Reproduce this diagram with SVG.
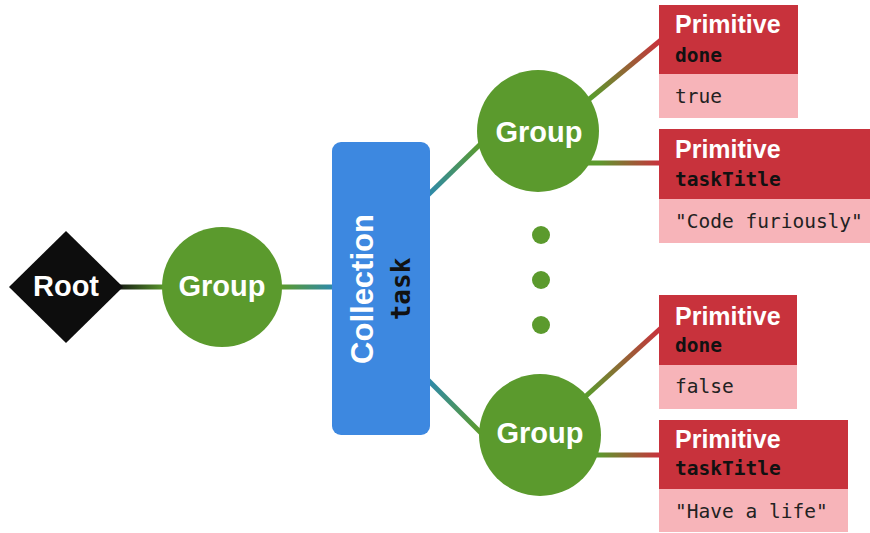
<svg xmlns="http://www.w3.org/2000/svg" width="870" height="533" viewBox="0 0 870 533">
<defs>
<linearGradient id="gRoot" gradientUnits="userSpaceOnUse" x1="115" y1="0" x2="165" y2="0"><stop offset="0" stop-color="#111"/><stop offset="1" stop-color="#5b9a2d"/></linearGradient>
<linearGradient id="gCol" gradientUnits="userSpaceOnUse" x1="282" y1="0" x2="332" y2="0"><stop offset="0" stop-color="#5b9a2d"/><stop offset="1" stop-color="#2f8aa8"/></linearGradient>
<linearGradient id="gT" gradientUnits="userSpaceOnUse" x1="430" y1="193" x2="480" y2="145"><stop offset="0" stop-color="#2f8aa8"/><stop offset="1" stop-color="#5b9a2d"/></linearGradient>
<linearGradient id="gB" gradientUnits="userSpaceOnUse" x1="430" y1="382" x2="480" y2="430"><stop offset="0" stop-color="#2f8aa8"/><stop offset="1" stop-color="#5b9a2d"/></linearGradient>
<linearGradient id="gP1" gradientUnits="userSpaceOnUse" x1="592" y1="97" x2="659" y2="42"><stop offset="0" stop-color="#5b9a2d"/><stop offset="1" stop-color="#c8323c"/></linearGradient>
<linearGradient id="gP2" gradientUnits="userSpaceOnUse" x1="598" y1="0" x2="659" y2="0"><stop offset="0" stop-color="#5b9a2d"/><stop offset="1" stop-color="#c8323c"/></linearGradient>
<linearGradient id="gP3" gradientUnits="userSpaceOnUse" x1="587" y1="395" x2="659" y2="330"><stop offset="0" stop-color="#5b9a2d"/><stop offset="1" stop-color="#c8323c"/></linearGradient>
<linearGradient id="gP4" gradientUnits="userSpaceOnUse" x1="598" y1="0" x2="659" y2="0"><stop offset="0" stop-color="#5b9a2d"/><stop offset="1" stop-color="#c8323c"/></linearGradient>
</defs>
<style>
.conn{stroke-width:5;fill:none}
.grp{fill:#5b9a2d}
.lbl{font-family:"Liberation Sans",Arial,sans-serif;font-weight:bold;fill:#fff}
.big{font-size:29px;text-anchor:middle}
.hdr{fill:#c8323c}
.val{fill:#f7b4b9}
.pt{font-size:25px}
.key{font-family:"DejaVu Sans Mono","Liberation Mono",monospace;font-weight:bold;font-size:19.5px;fill:#111}
.v{font-family:"DejaVu Sans Mono","Liberation Mono",monospace;font-size:19.5px;fill:#222}
</style>
<g id="connectors">
<line class="conn" x1="110" y1="287" x2="170" y2="287" stroke="url(#gRoot)"/>
<line class="conn" x1="270" y1="287" x2="334" y2="287" stroke="url(#gCol)"/>
<line class="conn" x1="428" y1="195" x2="495" y2="130" stroke="url(#gT)"/>
<line class="conn" x1="428" y1="380" x2="495" y2="447" stroke="url(#gB)"/>
<line class="conn" x1="570" y1="115" x2="661" y2="40" stroke="url(#gP1)"/>
<line class="conn" x1="580" y1="163" x2="661" y2="163" stroke="url(#gP2)"/>
<line class="conn" x1="565" y1="415" x2="661" y2="328" stroke="url(#gP3)"/>
<line class="conn" x1="580" y1="455" x2="661" y2="455" stroke="url(#gP4)"/>
</g>
<g id="root">
<polygon points="66,231 123,287 66,343 9,287" fill="#0d0d0d"/>
<text class="lbl big" x="66" y="296">Root</text>
</g>
<g id="group1">
<circle class="grp" cx="222" cy="287" r="60"/>
<text class="lbl big" x="222" y="296">Group</text>
</g>
<g id="collection">
<rect x="332" y="142" width="98" height="293" rx="9" fill="#3d88e0"/>
<text class="lbl" font-size="31" text-anchor="middle" transform="translate(373,289) rotate(-90)">Collection</text>
<text class="key" text-anchor="middle" transform="translate(410,289) rotate(-90)" style="font-size:26px">task</text>
</g>
<g id="group2">
<circle class="grp" cx="538" cy="131" r="61"/>
<text class="lbl big" x="539" y="142">Group</text>
</g>
<g id="dots">
<circle class="grp" cx="541" cy="235" r="9"/>
<circle class="grp" cx="541" cy="280" r="9"/>
<circle class="grp" cx="541" cy="325" r="9"/>
</g>
<g id="group3">
<circle class="grp" cx="540" cy="435" r="61"/>
<text class="lbl big" x="540" y="443">Group</text>
</g>
<g id="prim1">
<rect class="hdr" x="659" y="5" width="139" height="69"/>
<rect class="val" x="659" y="74" width="139" height="44"/>
<text class="lbl pt" x="675" y="33">Primitive</text>
<text class="key" x="675" y="62">done</text>
<text class="v" x="675" y="103">true</text>
</g>
<g id="prim2">
<rect class="hdr" x="659" y="129" width="211" height="70"/>
<rect class="val" x="659" y="199" width="211" height="44"/>
<text class="lbl pt" x="675" y="158">Primitive</text>
<text class="key" x="675" y="186">taskTitle</text>
<text class="v" x="675" y="228">"Code furiously"</text>
</g>
<g id="prim3">
<rect class="hdr" x="659" y="295" width="138" height="70"/>
<rect class="val" x="659" y="365" width="138" height="44"/>
<text class="lbl pt" x="675" y="325">Primitive</text>
<text class="key" x="675" y="352">done</text>
<text class="v" x="675" y="393">false</text>
</g>
<g id="prim4">
<rect class="hdr" x="659" y="420" width="189" height="69"/>
<rect class="val" x="659" y="489" width="189" height="43"/>
<text class="lbl pt" x="675" y="448">Primitive</text>
<text class="key" x="675" y="475">taskTitle</text>
<text class="v" x="675" y="518">"Have a life"</text>
</g>
</svg>
